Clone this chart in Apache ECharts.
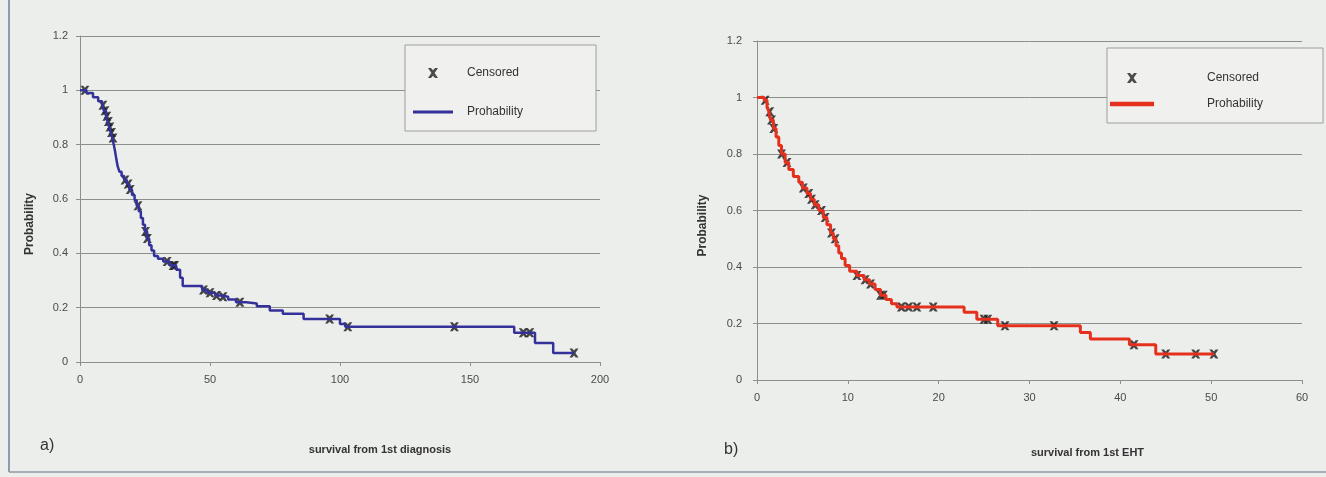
<!DOCTYPE html>
<html>
<head>
<meta charset="utf-8">
<script src="https://cdn.jsdelivr.net/npm/echarts@6/dist/echarts.min.js"></script>
<style>
  html, body { margin: 0; padding: 0; background: #eceeeb; }
  #chart { width: 1326px; height: 477px; }
</style>
</head>
<body>
<div id="chart"></div>
<script>
// a) survival from 1st diagnosis: [time, probability] after each event
const diagSteps = [
  [0, 1], [2.5, 0.99], [5, 0.975], [7, 0.96], [8.5, 0.945], [9.2, 0.925], [10, 0.905],
  [10.6, 0.885], [11.2, 0.865], [11.8, 0.845], [12.4, 0.825], [13, 0.8], [13.5, 0.775],
  [14, 0.745], [14.5, 0.72], [15.2, 0.7], [16, 0.685], [17, 0.67], [18, 0.655], [19, 0.635],
  [20, 0.615], [21, 0.595], [21.8, 0.575], [22.6, 0.555], [23.4, 0.53], [24.2, 0.505],
  [25, 0.48], [25.8, 0.455], [26.6, 0.43], [27.5, 0.41], [28.5, 0.39], [30, 0.38], [32, 0.37],
  [34.5, 0.355], [37, 0.34], [38.5, 0.31], [39.5, 0.28], [47, 0.265], [49, 0.255], [52, 0.245],
  [54, 0.24], [57, 0.23], [60, 0.22], [64, 0.215], [68, 0.205], [73, 0.19], [78, 0.178],
  [86, 0.158], [100, 0.14], [102, 0.13], [167, 0.108], [175, 0.07], [182, 0.033], [190, 0.033]
]
const diagCensored = [
  [1.9, 1], [8.8, 0.945], [9.6, 0.925], [10.3, 0.905], [10.9, 0.885], [11.5, 0.865],
  [12.1, 0.845], [12.7, 0.825], [17.3, 0.67], [18.5, 0.655], [19.3, 0.635], [22.3, 0.575],
  [25.2, 0.48], [25.9, 0.455], [33.5, 0.37], [35.8, 0.355], [36.4, 0.355], [47.5, 0.265],
  [50, 0.255], [52.5, 0.245], [55, 0.24], [61.5, 0.22], [96, 0.158], [103, 0.13], [144, 0.13],
  [170.5, 0.108], [173, 0.108], [190, 0.033]
]

// b) survival from 1st EHT
const ehtSteps = [
  [0, 1], [0.8, 0.99], [1.1, 0.97], [1.3, 0.95], [1.5, 0.92], [1.8, 0.89], [2.1, 0.86],
  [2.4, 0.83], [2.7, 0.8], [3.1, 0.77], [3.5, 0.745], [4, 0.72], [4.6, 0.7], [5, 0.68],
  [5.5, 0.66], [5.9, 0.64], [6.3, 0.62], [6.8, 0.6], [7.3, 0.575], [7.7, 0.55], [8.1, 0.52],
  [8.4, 0.5], [8.7, 0.475], [9, 0.45], [9.3, 0.43], [9.7, 0.405], [10.2, 0.385], [11, 0.37],
  [11.8, 0.355], [12.4, 0.34], [13, 0.32], [13.6, 0.3], [14.2, 0.285], [14.8, 0.27], [15.4, 0.258],
  [22.8, 0.24], [24.2, 0.215], [26.5, 0.192], [35.6, 0.168], [36.7, 0.145], [41, 0.125],
  [43.9, 0.092], [50.3, 0.092]
]
const ehtCensored = [
  [0.9, 0.99], [1.4, 0.95], [1.6, 0.92], [1.85, 0.89], [2.7, 0.8], [3.3, 0.77], [5.1, 0.68],
  [5.7, 0.66], [6, 0.64], [6.4, 0.62], [7.1, 0.6], [7.5, 0.575], [8.2, 0.52], [8.6, 0.5],
  [11, 0.37], [11.9, 0.355], [12.5, 0.34], [13.6, 0.3], [13.9, 0.3], [15.9, 0.258],
  [16.7, 0.258], [17.6, 0.258], [19.4, 0.258], [25, 0.215], [25.4, 0.215], [27.3, 0.192],
  [32.7, 0.192], [41.5, 0.125], [45, 0.092], [48.3, 0.092], [50.3, 0.092]
]

const diagTicks = { min: 0, max: 200, interval: 50 }
const ehtTicks = { min: 0, max: 60, interval: 10 }
const probTicks = { min: 0, max: 1.2, interval: 0.2 }

const FONT = 'Liberation Sans, Arial, sans-serif'
const X_ICON = 'path://M0,0 L3,0 L5,2.2 L7,0 L10,0 L6.6,5 L10,10 L7,10 L5,7.8 L3,10 L0,10 L3.4,5 Z'
const BLUE = '#34329a'
const RED = '#e6301e'
const GRID_LINE = '#8f8f8a'

const xAxisBase = (ticks, name, gap, shift) => ({
  type: 'value',
  min: ticks.min,
  max: ticks.max,
  interval: ticks.interval,
  name: name,
  nameLocation: 'middle',
  nameGap: gap,
  nameTextStyle: { fontFamily: FONT, fontSize: 11, fontWeight: 'bold', color: '#333', padding: [0, 0, 0, shift] },
  axisLine: { lineStyle: { color: GRID_LINE } },
  axisTick: { length: 4, lineStyle: { color: GRID_LINE } },
  axisLabel: { fontFamily: FONT, fontSize: 11, color: '#4a4a4a', margin: 12 },
  splitLine: { show: false }
})

const yAxisBase = (gap, shift, margin) => ({
  type: 'value',
  min: probTicks.min,
  max: probTicks.max,
  interval: probTicks.interval,
  name: 'Probability',
  nameLocation: 'middle',
  nameRotate: 90,
  nameGap: gap,
  nameTextStyle: { fontFamily: FONT, fontSize: 12, fontWeight: 'bold', color: '#333', padding: [0, shift, 0, 0] },
  axisLine: { show: true, lineStyle: { color: GRID_LINE } },
  axisTick: { show: true, length: 4, lineStyle: { color: GRID_LINE } },
  axisLabel: { fontFamily: FONT, fontSize: 11, color: '#4a4a4a', margin: margin },
  splitLine: { lineStyle: { color: GRID_LINE, width: 1 } }
})

const legendBase = {
  orient: 'vertical',
  itemHeight: 10,
  borderColor: '#9d9d9d',
  borderWidth: 1,
  backgroundColor: '#f0f1ef',
  selectedMode: false
}

const chart = echarts.init(document.getElementById('chart'))

const option = {
  backgroundColor: '#eceeeb',
  animation: false,
  grid: [
    { left: 80, top: 36, width: 520, height: 326 },
    { left: 757, top: 41, width: 545, height: 339 }
  ],
  xAxis: [
    Object.assign(xAxisBase(diagTicks, 'survival from 1st diagnosis', 82, 80), { gridIndex: 0 }),
    Object.assign(xAxisBase(ehtTicks, 'survival from 1st EHT', 67, 116), { gridIndex: 1 })
  ],
  yAxis: [
    Object.assign(yAxisBase(44, 50, 12), { gridIndex: 0 }),
    Object.assign(yAxisBase(48, 30, 15), { gridIndex: 1 })
  ],
  legend: [
    Object.assign({}, legendBase, {
      left: 405, top: 45,
      padding: [22, 73, 13, 8],
      itemWidth: 40,
      itemGap: 27,
      textStyle: { fontFamily: FONT, fontSize: 12, color: '#333', padding: [0, 0, 0, 9] },
      data: [
        { name: 'Censored', icon: X_ICON, itemStyle: { color: '#222', borderWidth: 0 } },
        { name: 'Prohability', icon: 'path://M0,0 H40 V3 H0 Z', itemStyle: { color: BLUE, borderWidth: 0 }, lineStyle: { width: 0 } }
      ]
    }),
    Object.assign({}, legendBase, {
      left: 1107, top: 48,
      padding: [24, 60, 13, 3],
      itemWidth: 44,
      itemGap: 14,
      textStyle: { fontFamily: FONT, fontSize: 12, color: '#333', padding: [0, 0, 0, 48] },
      data: [
        { name: 'Censored', icon: X_ICON, itemStyle: { color: '#222', borderWidth: 0 } },
        { name: 'Prohability', icon: 'path://M0,0 H40 V4 H0 Z', itemStyle: { color: RED, borderWidth: 0 }, lineStyle: { width: 0 } }
      ]
    })
  ],
  series: [
    {
      name: 'Prohability', type: 'line', step: 'end', xAxisIndex: 0, yAxisIndex: 0,
      data: diagSteps, showSymbol: false,
      lineStyle: { color: BLUE, width: 2.5 }, itemStyle: { color: BLUE }
    },
    {
      name: 'Censored', type: 'scatter', xAxisIndex: 0, yAxisIndex: 0,
      data: diagCensored, symbol: X_ICON, symbolSize: 9,
      itemStyle: { color: '#1a1a1a' }
    },
    {
      name: 'Prohability', type: 'line', step: 'end', xAxisIndex: 1, yAxisIndex: 1,
      data: ehtSteps, showSymbol: false,
      lineStyle: { color: RED, width: 3 }, itemStyle: { color: RED }
    },
    {
      name: 'Censored', type: 'scatter', xAxisIndex: 1, yAxisIndex: 1,
      data: ehtCensored, symbol: X_ICON, symbolSize: 9,
      itemStyle: { color: '#1a1a1a' }
    }
  ],
  graphic: [
    { type: 'text', left: 40, top: 438, style: { text: 'a)', fontFamily: FONT, fontSize: 16, fill: '#333' } },
    { type: 'text', left: 724, top: 442, style: { text: 'b)', fontFamily: FONT, fontSize: 16, fill: '#333' } },
    // outer frame of the scanned figure
    { type: 'line', shape: { x1: 9, y1: 0, x2: 9, y2: 472 }, style: { stroke: '#8e9ab0', lineWidth: 2 } },
    { type: 'line', shape: { x1: 9, y1: 472, x2: 1326, y2: 472 }, style: { stroke: '#a5adb8', lineWidth: 2 } }
  ]
}

chart.setOption(option)
</script>
</body>
</html>
